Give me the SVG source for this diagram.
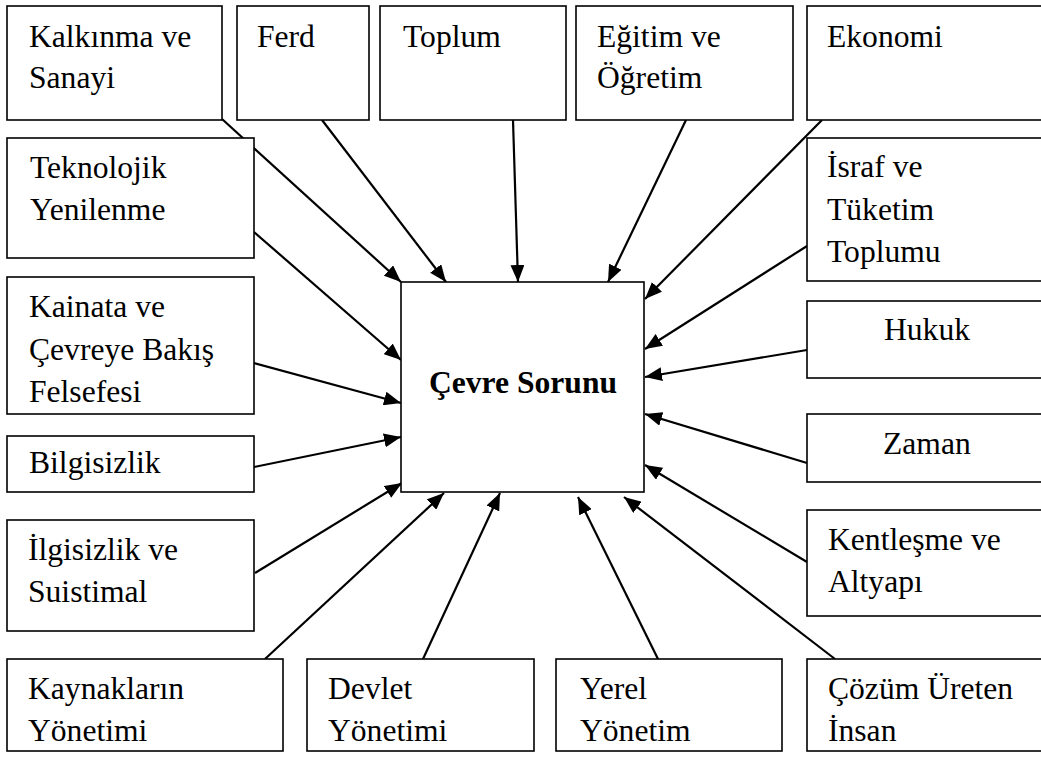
<svg xmlns="http://www.w3.org/2000/svg" width="1041" height="761" viewBox="0 0 1041 761">
<style>
.b{fill:#fff;stroke:#000;stroke-width:1.6}
.t{font-family:"Liberation Serif","Times New Roman",serif;font-size:31.6px;fill:#000}
.c{font-weight:bold;text-anchor:middle}
.a{stroke:#000;stroke-width:2.2;fill:none;marker-end:url(#ah)}
</style>
<defs>
<marker id="ah" markerUnits="userSpaceOnUse" markerWidth="18" markerHeight="14" viewBox="0 0 18 14" refX="17" refY="7" orient="auto">
<path d="M0,0 L17,7 L0,14 Z" fill="#000"/>
</marker>
</defs>
<rect width="1041" height="761" fill="#fff"/>
<g id="connectors">
<line class="a" x1="222" y1="119" x2="401" y2="282"/>
<line class="a" x1="322" y1="120" x2="446" y2="282"/>
<line class="a" x1="513" y1="120" x2="518" y2="282"/>
<line class="a" x1="686" y1="120" x2="608" y2="282"/>
<line class="a" x1="822" y1="120" x2="645" y2="299"/>
<line class="a" x1="807" y1="246" x2="645" y2="349"/>
<line class="a" x1="807" y1="350" x2="645" y2="377"/>
<line class="a" x1="807" y1="463" x2="645" y2="414"/>
<line class="a" x1="807" y1="562" x2="645" y2="465"/>
<line class="a" x1="835" y1="659" x2="624" y2="497"/>
<line class="a" x1="658" y1="659" x2="578" y2="497"/>
<line class="a" x1="423" y1="659" x2="500" y2="493"/>
<line class="a" x1="265" y1="659" x2="444" y2="493"/>
<line class="a" x1="255" y1="573" x2="402" y2="483"/>
<line class="a" x1="254" y1="467" x2="401" y2="437"/>
<line class="a" x1="254" y1="363" x2="401" y2="403"/>
<line class="a" x1="254" y1="232" x2="401" y2="360"/>
</g>
<g id="n-center"><rect class="b" x="401" y="282" width="243" height="210"/><text class="t c" x="523" y="393">Çevre Sorunu</text></g>
<g id="n-kalkinma"><rect class="b" x="7" y="6" width="215" height="114"/><text class="t" x="29" y="47">Kalkınma ve</text><text class="t" x="29" y="88">Sanayi</text></g>
<g id="n-ferd"><rect class="b" x="237" y="6" width="132" height="114"/><text class="t" x="257" y="47">Ferd</text></g>
<g id="n-toplum"><rect class="b" x="380" y="6" width="186" height="114"/><text class="t" x="403" y="47">Toplum</text></g>
<g id="n-egitim"><rect class="b" x="576" y="6" width="217" height="114"/><text class="t" x="597" y="47">Eğitim ve</text><text class="t" x="597" y="88">Öğretim</text></g>
<g id="n-ekonomi"><rect class="b" x="807" y="6" width="240" height="114"/><text class="t" x="827" y="47">Ekonomi</text></g>
<g id="n-teknolojik"><rect class="b" x="7" y="138" width="247" height="120"/><text class="t" x="30" y="178">Teknolojik</text><text class="t" x="30" y="220">Yenilenme</text></g>
<g id="n-israf"><rect class="b" x="807" y="138" width="240" height="143"/><text class="t" x="827" y="177">İsraf ve</text><text class="t" x="827" y="220">Tüketim</text><text class="t" x="827" y="262">Toplumu</text></g>
<g id="n-kainata"><rect class="b" x="7" y="277" width="247" height="137"/><text class="t" x="29" y="317">Kainata ve</text><text class="t" x="29" y="360">Çevreye Bakış</text><text class="t" x="29" y="402">Felsefesi</text></g>
<g id="n-hukuk"><rect class="b" x="807" y="301" width="240" height="77"/><text class="t" x="884" y="340">Hukuk</text></g>
<g id="n-bilgisizlik"><rect class="b" x="7" y="436" width="247" height="56"/><text class="t" x="29" y="473">Bilgisizlik</text></g>
<g id="n-zaman"><rect class="b" x="807" y="414" width="240" height="68"/><text class="t" x="883" y="454">Zaman</text></g>
<g id="n-kentlesme"><rect class="b" x="807" y="510" width="240" height="106"/><text class="t" x="828" y="550">Kentleşme ve</text><text class="t" x="828" y="592">Altyapı</text></g>
<g id="n-ilgisizlik"><rect class="b" x="7" y="520" width="247" height="111"/><text class="t" x="28" y="560">İlgisizlik ve</text><text class="t" x="28" y="602">Suistimal</text></g>
<g id="n-kaynaklarin"><rect class="b" x="7" y="659" width="276" height="92"/><text class="t" x="28" y="699">Kaynakların</text><text class="t" x="28" y="741">Yönetimi</text></g>
<g id="n-devlet"><rect class="b" x="307" y="659" width="227" height="92"/><text class="t" x="328" y="699">Devlet</text><text class="t" x="328" y="741">Yönetimi</text></g>
<g id="n-yerel"><rect class="b" x="556" y="659" width="226" height="92"/><text class="t" x="580" y="699">Yerel</text><text class="t" x="580" y="741">Yönetim</text></g>
<g id="n-cozum"><rect class="b" x="807" y="659" width="240" height="92"/><text class="t" x="828" y="699">Çözüm Üreten</text><text class="t" x="828" y="741">İnsan</text></g>
</svg>
